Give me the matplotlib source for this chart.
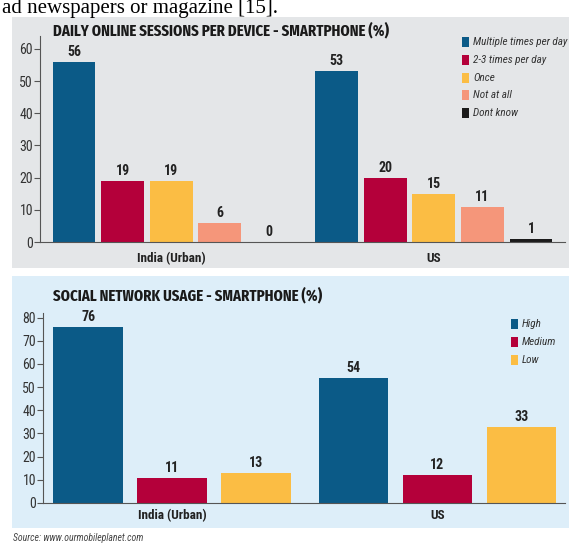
import matplotlib
matplotlib.use('Agg')
import matplotlib.pyplot as plt
from matplotlib.patches import Rectangle

W, H = 569, 545

# top chart: daily online sessions
sessions_groups = ['India (Urban)', 'US']
sessions_labels = ['Multiple times per day', '2-3 times per day', 'Once', 'Not at all', 'Dont know']
sessions_india = [56, 19, 19, 6, 0]
sessions_us = [53, 20, 15, 11, 1]

# bottom chart: social network usage
social_groups = ['India (Urban)', 'US']
social_labels = ['High', 'Medium', 'Low']
social_india = [76, 11, 13]
social_us = [54, 12, 33]

colors = ['#0b5a87', '#b4003a', '#fbbd44', '#f5967a', '#1b1b1b']
cond = ['Roboto Condensed', 'DejaVu Sans']
title_font = ['Fira Sans Extra Condensed', 'Roboto Condensed', 'DejaVu Sans']


def px(x, y):
    return x / W, 1 - y / H


def ax_rect(x0, y0, x1, y1):
    return [x0 / W, 1 - y1 / H, (x1 - x0) / W, (y1 - y0) / H]


fig = plt.figure(figsize=(W / 100, H / 100), dpi=100)
fig.patch.set_facecolor('white')

fig.patches.append(Rectangle(px(12, 268), (W - 12) / W, 251 / H, transform=fig.transFigure,
                             facecolor='#e4e6e8', edgecolor='none', zorder=-5))
fig.patches.append(Rectangle(px(12, 528), (W - 12) / W, 252 / H, transform=fig.transFigure,
                             facecolor='#ddeef9', edgecolor='none', zorder=-5))

fig.text(*px(2, 13), 'ad newspapers or magazine [15].', family='Liberation Serif', fontsize=15,
         va='baseline', ha='left', color='black')


def draw_chart(rect, ylim, yticks, groups, centers, series, labels, width, xlim, leg_x, leg_y, leg_dy, lab_y):
    ax = fig.add_axes(rect)
    ax.set_facecolor('none')
    n = len(labels)
    for i in range(n):
        vals = [s[i] for s in series]
        xs = [c + (i - (n - 1) / 2) for c in centers]
        ax.bar(xs, vals, width=width, color=colors[i], zorder=2)
        for x, v in zip(xs, vals):
            ax.text(x, v + ylim[1] * 0.015, str(v), ha='center', va='bottom', family=cond, fontsize=10,
                    fontweight='bold', color='#222222')
    ax.set_xlim(*xlim)
    ax.set_ylim(*ylim)
    ax.set_yticks(yticks)
    ax.set_xticks([])
    for sp in ['top', 'right']:
        ax.spines[sp].set_visible(False)
    ax.spines['left'].set_color('#555555')
    ax.spines['bottom'].set_color('#555555')
    ax.tick_params(axis='y', colors='#555555', length=4, width=0.8, labelsize=10, pad=1)
    for t in ax.get_yticklabels():
        t.set_family(cond)
        t.set_color('#333333')
    for g, c in zip(groups, centers):
        ax.text(c, lab_y, g, transform=ax.get_xaxis_transform(), ha='center', va='center', family=cond,
                fontsize=9.5, fontweight='bold', color='#222222')
    for i, lab in enumerate(labels):
        y = leg_y + i * leg_dy
        fig.patches.append(Rectangle(px(leg_x, y + 5), 7 / W, 10 / H, transform=fig.transFigure,
                                     facecolor=colors[i], edgecolor='none', zorder=3))
        fig.text(*px(leg_x + 11, y), lab, family=cond, fontsize=8, style='italic', color='#333333',
                 ha='left', va='center')
    return ax


top = draw_chart(ax_rect(40, 36, 565, 242), (0, 64), range(0, 61, 10), sessions_groups, [0, 5.4],
                 [sessions_india, sessions_us], sessions_labels, 0.88, (-2.7, 8.1), 462, 42, 17.8, -0.08)
fig.text(*px(53, 30), 'DAILY ONLINE SESSIONS PER DEVICE - SMARTPHONE (%)', family=title_font, fontsize=11.5,
         fontweight='bold', color='#1a1a1a', ha='left', va='center')

bottom = draw_chart(ax_rect(43, 313, 565, 503), (0, 82), range(0, 81, 10), social_groups, [0, 3.16],
                    [social_india, social_us], social_labels, 0.83, (-1.54, 4.68), 511, 324, 18, -0.065)
fig.text(*px(53, 295), 'SOCIAL NETWORK USAGE - SMARTPHONE (%)', family=title_font, fontsize=11.5,
         fontweight='bold', color='#1a1a1a', ha='left', va='center')

fig.text(*px(13, 538), 'Source: www.ourmobileplanet.com', family=cond, fontsize=7, style='italic',
         color='#444444', ha='left', va='center')

fig.savefig('out.png', dpi=100)
